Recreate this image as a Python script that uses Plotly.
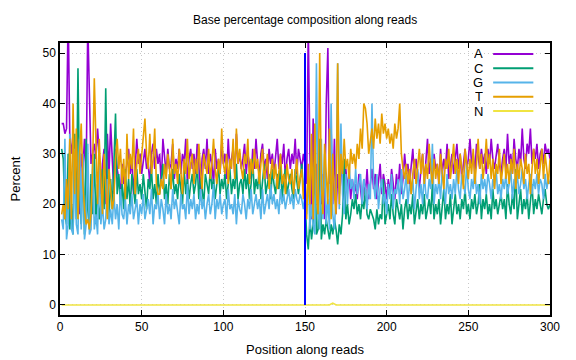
import plotly.graph_objects as go

positions = list(range(1, 301))

pct_A = [
    36, 36, 34, 35, 58, 33, 30, 34, 31, 29,
    22, 18, 30, 27, 33, 25, 56, 40, 28, 30,
    32, 29, 35, 30, 22, 28, 31, 20, 34, 26,
    36, 29, 22, 31, 27, 25, 22, 28, 24, 26,
    28, 31, 26, 29, 22, 27, 33, 28, 30, 26,
    29, 31, 27, 28, 24, 30, 32, 27, 31, 28,
    30, 24, 33, 29, 26, 31, 27, 28, 32, 25,
    29, 27, 31, 26, 30, 28, 33, 24, 29, 31,
    27, 30, 26, 32, 28, 22, 29, 31, 27, 33,
    26, 30, 28, 24, 31, 27, 29, 26, 32, 28,
    30, 25, 33, 27, 29, 31, 26, 34, 28, 30,
    27, 29, 32, 26, 30, 28, 25, 31, 27, 33,
    28, 26, 30, 32, 27, 29, 25, 31, 28, 30,
    26, 29, 33, 27, 30, 28, 32, 25, 29, 31,
    27, 30, 28, 33, 26, 31, 29, 27, 30, 28,
    24, 55, 30, 17, 37, 22, 28, 18, 30, 20,
    26, 17, 40, 51, 24, 35, 20, 33, 18, 26,
    22, 28, 24, 20, 27, 23, 26, 21, 25, 22,
    24, 21, 26, 23, 20, 25, 22, 27, 21, 24,
    27, 23, 26, 21, 25, 28, 22, 26, 24, 21,
    25, 22, 27, 24, 21, 26, 23, 28, 22, 25,
    30, 26, 28, 24, 27, 31, 25, 29, 26, 23,
    27, 30, 24, 28, 33, 26, 29, 25, 30, 27,
    28, 24, 31, 26, 29, 27, 32, 25, 28, 30,
    26, 29, 32, 27, 30, 25, 28, 31, 27, 29,
    33, 28, 30, 26, 32, 29, 27, 31, 28, 30,
    26, 31, 28, 33, 29, 27, 30, 32, 28, 26,
    29, 31, 27, 34, 28, 30, 26, 33, 29, 27,
    31, 28, 35, 29, 27, 32, 30, 35, 28, 31,
    29, 32, 27, 30, 31, 28, 32, 30, 31, 29,
]

pct_C = [
    31, 29, 18, 16, 30, 15, 20, 14, 34, 17,
    47, 22, 16, 28, 14, 33, 19, 15, 26, 18,
    30, 16, 24, 17, 20, 27, 19, 43, 22, 17,
    25, 19, 28, 38, 22, 26, 20, 24, 19, 27,
    21, 25, 19, 26, 23, 20, 27, 22, 24, 21,
    26, 22, 19, 25, 23, 27, 21, 24, 20, 26,
    22, 25, 28, 21, 24, 20, 26, 23, 27, 22,
    24, 21, 26, 23, 20, 27, 22, 25, 21, 24,
    26, 22, 24, 28, 21, 25, 23, 20, 26, 24,
    22, 27, 23, 25, 21, 24, 28, 22, 25, 23,
    26, 21, 24, 27, 22, 25, 23, 28, 21, 24,
    25, 22, 27, 23, 26, 21, 24, 29, 22, 25,
    23, 27, 21, 25, 28, 22, 24, 26, 21, 27,
    24, 22, 26, 23, 28, 21, 25, 27, 22, 24,
    26, 23, 21, 27, 24, 22, 25, 28, 23, 21,
    14, 11, 17, 13, 16, 30, 14, 15, 33, 13,
    16, 14, 17, 15, 13, 16, 14, 17, 15, 12,
    16, 14, 18, 29, 17, 20, 16, 18, 21, 19,
    22, 18, 20, 17, 21, 19, 23, 18, 17, 19,
    18, 17, 15, 19, 16, 18, 17, 25, 16, 18,
    20, 17, 22, 18, 16, 21, 19, 17, 20, 15,
    19, 21, 17, 20, 18, 22, 16, 19, 21, 17,
    20, 18, 22, 17, 19, 21, 18, 24, 17, 20,
    18, 21, 16, 19, 23, 17, 20, 18, 22, 16,
    19, 22, 18, 20, 17, 21, 19, 23, 18, 20,
    17, 21, 19, 22, 18, 20, 24, 17, 21, 19,
    22, 18, 20, 17, 23, 19, 21, 18, 20, 22,
    19, 21, 17, 24, 20, 18, 22, 19, 27, 17,
    20, 23, 18, 21, 19, 22, 17, 20, 24, 18,
    21, 19, 22, 20, 18, 21, 23, 20, 19, 20,
]

pct_G = [
    17, 15, 33, 13, 16, 34, 15, 14, 31, 16,
    14, 33, 15, 30, 13, 16, 32, 14, 15, 29,
    15, 18, 14, 28, 16, 20, 15, 17, 25, 16,
    19, 16, 22, 17, 20, 15, 23, 18, 17, 21,
    16, 20, 18, 22, 17, 19, 21, 16, 20, 18,
    22, 17, 19, 21, 18, 23, 16, 20, 19, 22,
    17, 21, 19, 16, 22, 18, 20, 17, 23, 19,
    21, 18, 16, 22, 19, 20, 17, 24, 18, 21,
    19, 22, 17, 20, 18, 23, 19, 21, 17, 20,
    22, 18, 20, 24, 17, 21, 19, 22, 18, 20,
    21, 17, 23, 19, 20, 18, 22, 16, 21, 19,
    18, 22, 20, 17, 21, 19, 23, 18, 20, 22,
    19, 21, 17, 23, 18, 20, 22, 19, 24, 20,
    22, 19, 21, 18, 23, 20, 22, 19, 21, 23,
    20, 22, 19, 23, 21, 20, 22, 21, 19, 22,
    18, 26, 15, 20, 16, 14, 48, 19, 15, 33,
    17, 30, 16, 21, 15, 40, 18, 15, 22, 48,
    19, 36, 22, 18, 26, 20, 28, 23, 25, 21,
    27, 22, 24, 26, 20, 25, 23, 19, 24, 21,
    40, 24, 21, 26, 19, 23, 25, 20, 22, 18,
    24, 21, 26, 19, 23, 22, 25, 20, 27, 21,
    23, 26, 20, 24, 22, 25, 19, 23, 27, 21,
    24, 20, 26, 22, 21, 25, 23, 32, 20, 24,
    22, 25, 21, 27, 23, 20, 26, 22, 24, 21,
    25, 22, 27, 23, 21, 26, 24, 22, 28, 23,
    21, 25, 23, 27, 22, 24, 20, 26, 23, 25,
    22, 26, 24, 21, 25, 23, 27, 22, 24, 21,
    25, 23, 26, 22, 24, 27, 21, 25, 23, 26,
    22, 24, 27, 23, 25, 21, 24, 26, 22, 25,
    23, 26, 22, 25, 24, 21, 26, 23, 25, 24,
]

pct_T = [
    18, 20, 17, 25, 19, 33, 17, 40, 22, 35,
    17, 30, 36, 24, 19, 16, 17, 15, 18, 28,
    45, 30, 20, 33, 26, 18, 30, 22, 17, 27,
    23, 19, 21, 29, 33, 27, 31, 24, 29, 21,
    34, 25, 30, 27, 35, 22, 28, 31, 26, 30,
    33, 37, 30, 27, 34, 26, 29, 35, 24, 22,
    22, 25, 23, 28, 25, 30, 27, 23, 33, 26,
    28, 24, 31, 27, 22, 29, 26, 33, 25, 28,
    30, 24, 29, 26, 32, 27, 23, 30, 28, 26,
    31, 25, 28, 33, 27, 24, 29, 26, 35, 28,
    26, 30, 24, 29, 27, 33, 25, 35, 28, 31,
    27, 25, 30, 28, 33, 24, 29, 26, 31, 27,
    29, 24, 28, 31, 25, 27, 30, 23, 26, 29,
    25, 28, 23, 27, 30, 24, 26, 22, 28, 25,
    24, 27, 22, 26, 29, 23, 25, 27, 21, 26,
    17, 28, 20, 34, 17, 36, 22, 18, 50, 24,
    18, 32, 26, 20, 35, 17, 30, 22, 18, 48,
    20, 30, 26, 33, 27, 29, 25, 31, 28, 30,
    27, 32, 29, 35, 31, 40, 39, 36, 30, 33,
    35, 31, 37, 33, 36, 32, 38, 34, 36, 33,
    35, 32, 34, 31, 36, 33, 35, 40, 30, 27,
    25, 28, 24, 27, 22, 26, 29, 24, 28, 31,
    26, 30, 24, 28, 25, 32, 27, 24, 29, 25,
    28, 24, 30, 26, 23, 29, 27, 31, 25, 28,
    32, 26, 29, 24, 30, 27, 23, 31, 28, 25,
    29, 26, 31, 24, 28, 33, 27, 30, 25, 28,
    33, 27, 30, 25, 29, 23, 28, 26, 31, 24,
    27, 30, 25, 28, 24, 29, 26, 31, 23, 28,
    25, 29, 27, 24, 30, 26, 28, 22, 27, 31,
    26, 29, 24, 28, 31, 25, 30, 27, 24, 29,
]

pct_N = [0.0] * 300
pct_N[165] = 0.2
pct_N[166] = 0.35
pct_N[167] = 0.2

series_names = ["A", "C", "G", "T", "N"]
series_values = [pct_A, pct_C, pct_G, pct_T, pct_N]
series_colors = ["#9400d3", "#009e73", "#56b4e9", "#e69f00", "#f0e442"]

read_boundary = 150
boundary_top = 50

for v in series_values:
    assert len(v) == len(positions), len(v)

fig = go.Figure()
for name, vals, col in zip(series_names, series_values, series_colors):
    fig.add_trace(go.Scatter(x=positions, y=vals, mode="lines", name=name,
                             line=dict(color=col, width=1.6), showlegend=False))

fig.add_shape(type="line", x0=read_boundary, x1=read_boundary, y0=0, y1=boundary_top,
              xref="x", yref="y", line=dict(color="#0000ff", width=2))

# gnuplot-style key (text right-aligned, sample line to the right)
key_top = 0.9596
key_step = 0.0524
for i, (name, col) in enumerate(zip(series_names, series_colors)):
    yk = key_top - i * key_step
    fig.add_annotation(x=0.867, y=yk, xref="paper", yref="paper", text=name,
                       showarrow=False, xanchor="right", yanchor="middle",
                       height=13, valign="middle",
                       font=dict(family="Liberation Sans, Arial", size=13, color="black"))
    fig.add_shape(type="line", xref="paper", yref="paper", x0=0.884, x1=0.966,
                  y0=yk, y1=yk, line=dict(color=col, width=2))

font_family = "Liberation Sans, Arial, sans-serif"
fig.update_layout(
    width=568, height=352,
    margin=dict(l=52, r=26, t=35, b=45),
    paper_bgcolor="white", plot_bgcolor="white",
    font=dict(family=font_family, size=12, color="black"),
    title=dict(text="Base percentage composition along reads", x=0.523, xanchor="center",
               y=0.966, yanchor="middle", font=dict(size=12)),
    showlegend=False,
)
fig.update_xaxes(range=[0, 300], tickvals=[0, 50, 100, 150, 200, 250, 300],
                 showline=True, linecolor="black", linewidth=1.5, mirror="allticks",
                 ticks="inside", ticklen=5, tickcolor="black",
                 showgrid=True, gridcolor="#c8c8c8", griddash="1px,3px", gridwidth=1,
                 zeroline=False, automargin=False,
                 title=dict(text="Position along reads", standoff=12, font=dict(size=13)),
                 tickfont=dict(size=12))
fig.update_yaxes(range=[-2, 52], tickvals=[0, 10, 20, 30, 40, 50],
                 showline=True, linecolor="black", linewidth=1.5, mirror="allticks",
                 ticks="inside", ticklen=5, tickcolor="black",
                 showgrid=True, gridcolor="#c8c8c8", griddash="1px,3px", gridwidth=1,
                 zeroline=False, automargin=False,
                 title=dict(text="Percent", standoff=22, font=dict(size=13)),
                 tickfont=dict(size=12))

fig.write_html("out.html")
